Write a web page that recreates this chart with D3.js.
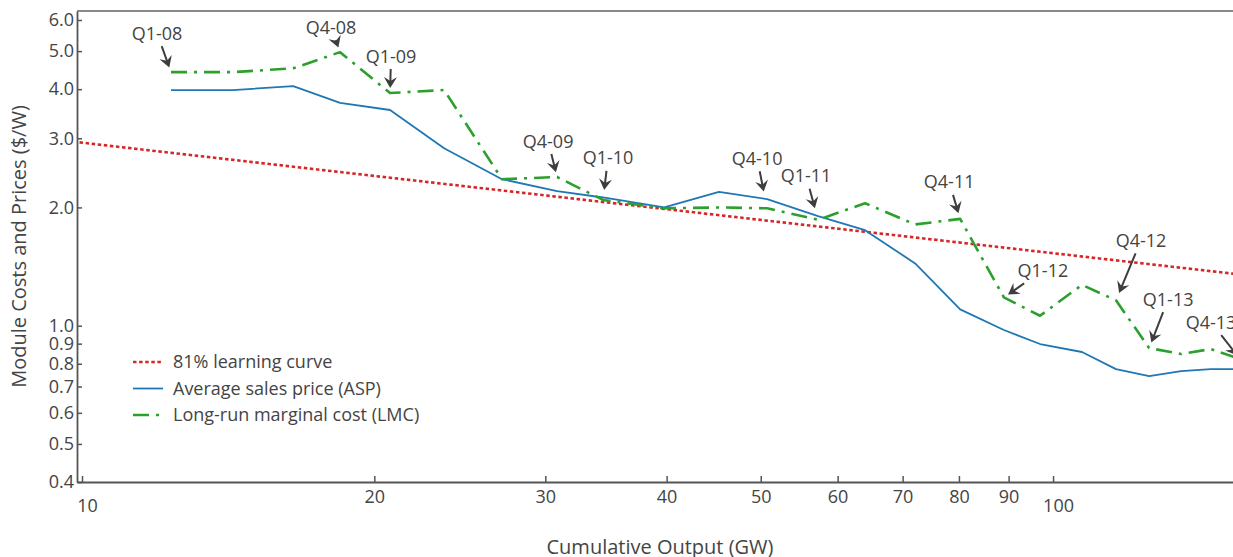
<!DOCTYPE html>
<html>
<head>
<meta charset="utf-8">
<script src="https://cdn.jsdelivr.net/npm/d3@7"></script>
<style>
  body { margin: 0; background: #fff; }
  svg { display: block; font-family: "Open Sans", sans-serif; }
</style>
</head>
<body>
<svg id="chart" width="1233" height="557"></svg>
<script>
"use strict";

// quarterly data
const quarters = ["Q1-08", "Q2-08", "Q3-08", "Q4-08", "Q1-09", "Q2-09", "Q3-09", "Q4-09",
                  "Q1-10", "Q2-10", "Q3-10", "Q4-10", "Q1-11", "Q2-11", "Q3-11", "Q4-11",
                  "Q1-12", "Q2-12", "Q3-12", "Q4-12", "Q1-13", "Q2-13", "Q3-13", "Q4-13"];
const cumOutput = [12.35, 14.3, 16.5, 18.44, 20.76, 23.6, 27.07, 30.85,
                   34.4, 39.77, 45.29, 50.76, 57.28, 64.03, 72.11, 80.23,
                   89.0, 96.96, 107.1, 116.1, 125.6, 135.5, 145.4, 155.8];
const aspPrice = [3.98, 3.98, 4.07, 3.69, 3.54, 2.83, 2.36, 2.2,
                  2.12, 2.0, 2.19, 2.1, 1.9, 1.75, 1.44, 1.1,
                  0.975, 0.898, 0.857, 0.775, 0.744, 0.766, 0.775, 0.775];
const lmcCost = [4.42, 4.42, 4.52, 4.97, 3.91, 3.98, 2.36, 2.39,
                 2.09, 1.99, 2.0, 1.99, 1.86, 2.05, 1.81, 1.87,
                 1.18, 1.06, 1.27, 1.16, 0.877, 0.847, 0.872, 0.822];
const learningOutput = [9.8, 160];
const learningPrice = [2.94, 1.34];

const seriesNames = ["81% learning curve", "Average sales price (ASP)", "Long-run marginal cost (LMC)"];
const xTicks = [10, 20, 30, 40, 50, 60, 70, 80, 90, 100];
const yTicks = [0.4, 0.5, 0.6, 0.7, 0.8, 0.9, 1.0, 2.0, 3.0, 4.0, 5.0, 6.0];
const annotated = ["Q1-08", "Q4-08", "Q1-09", "Q4-09", "Q1-10", "Q4-10",
                   "Q1-11", "Q4-11", "Q1-12", "Q4-12", "Q1-13", "Q4-13"];

// layout
const plot = {left: 77, right: 1243, top: 11, bottom: 482};
const annOffset = [[-14, -39], [-9, -25], [1, -37], [-9, -36], [5, -42], [-10, -50],
                   [-12, -44], [-11, -37], [39, -27], [25, -60], [19, -49], [-29, -37]];
const annStandoff = [5, 5, 5, 5, 10, 17, 12, 6, 5, 8, 6, 5];
const styles = [
  {stroke: "#d62728", width: 2.6, dash: "3.5,2.6"},
  {stroke: "#1f77b4", width: 1.8, dash: null},
  {stroke: "#2ca02c", width: 2.6, dash: "16,7,3,7"}
];
const textColor = "#444";

const svg = d3.select("#chart");
svg.append("rect").attr("width", 1233).attr("height", 557).attr("fill", "#fff");

const x = d3.scaleLog().domain([9.882, 156.9]).range([plot.left, plot.right]);
const y = d3.scaleLog().domain([0.4, 6.325]).range([plot.bottom, plot.top]);

svg.append("clipPath").attr("id", "plot-clip")
  .append("rect")
  .attr("x", plot.left).attr("y", plot.top)
  .attr("width", plot.right - plot.left).attr("height", plot.bottom - plot.top);

// axes
let xAxis = d3.axisBottom(x).tickValues(xTicks).tickFormat(d3.format("d"))
  .tickSizeInner(-6).tickSizeOuter(0).tickPadding(8);
let gx = svg.append("g").attr("transform", `translate(0,${plot.bottom})`).call(xAxis);

let yAxis = d3.axisLeft(y).tickValues(yTicks).tickFormat(d3.format(".1f"))
  .tickSizeInner(-5).tickSizeOuter(0).tickPadding(3);
let gy = svg.append("g").attr("transform", `translate(${plot.left},0)`).call(yAxis);

[gx, gy].forEach(g => {
  g.attr("font-size", 18).attr("font-family", "'Open Sans', sans-serif");
  g.select(".domain").attr("stroke", "#555").attr("stroke-width", 1.8);
  g.selectAll(".tick line").attr("stroke", "#555").attr("stroke-width", 1.5);
  g.selectAll(".tick text").attr("fill", textColor);
});
// 10 and 100 sit a bit lower than the minor labels
gx.selectAll(".tick text")
  .filter(d => d === 10 || d === 100)
  .attr("dx", 5).attr("dy", "1.21em");

svg.append("line")
  .attr("x1", plot.left).attr("x2", plot.right)
  .attr("y1", plot.top).attr("y2", plot.top)
  .attr("stroke", "#888").attr("stroke-width", 1.8);

// series
const line = d3.line().x(d => x(d[0])).y(d => y(d[1]));
const series = [
  d3.zip(learningOutput, learningPrice),
  d3.zip(cumOutput, aspPrice),
  d3.zip(cumOutput, lmcCost)
];
let gLines = svg.append("g").attr("clip-path", "url(#plot-clip)");
series.forEach((pts, i) => {
  gLines.append("path")
    .attr("d", line(pts))
    .attr("fill", "none")
    .attr("stroke", styles[i].stroke)
    .attr("stroke-width", styles[i].width)
    .attr("stroke-dasharray", styles[i].dash)
    .attr("stroke-linejoin", "round");
});

// annotations with arrows
const arrowColor = "#3d3d3d";
let gAnn = svg.append("g");
annotated.forEach((label, k) => {
  let i = quarters.indexOf(label);
  let px = x(cumOutput[i]), py = y(lmcCost[i]);
  let tx = px + annOffset[k][0], ty = py + annOffset[k][1];

  let t = gAnn.append("text")
    .attr("x", tx).attr("y", ty).attr("dy", "0.36em")
    .attr("text-anchor", "middle")
    .attr("font-size", 18).attr("fill", textColor)
    .text(label);
  let hw = t.node().getComputedTextLength() / 2 + 3, hh = 13;

  let dx = px - tx, dy = py - ty;
  let len = Math.hypot(dx, dy);
  let ux = dx / len, uy = dy / len;
  let f = Math.min(Math.abs(dx) > 0 ? hw / Math.abs(dx) : Infinity, hh / Math.abs(dy));
  let sx = tx + f * dx, sy = ty + f * dy;
  let ex = px - annStandoff[k] * ux, ey = py - annStandoff[k] * uy;
  let ang = Math.atan2(uy, ux) * 180 / Math.PI;

  gAnn.append("line")
    .attr("x1", sx).attr("y1", sy)
    .attr("x2", ex - 6 * ux).attr("y2", ey - 6 * uy)
    .attr("stroke", arrowColor).attr("stroke-width", 2);
  gAnn.append("path")
    .attr("d", "M0,0L-11,-6.5L-7,0L-11,6.5Z")
    .attr("transform", `translate(${ex},${ey}) rotate(${ang})`)
    .attr("fill", arrowColor);
});

// legend
let gLeg = svg.append("g").attr("transform", "translate(133,362)");
seriesNames.forEach((name, i) => {
  let row = gLeg.append("g").attr("transform", `translate(0,${i * 26.5})`);
  row.append("line")
    .attr("x1", 0).attr("x2", 30)
    .attr("stroke", styles[i].stroke)
    .attr("stroke-width", styles[i].width)
    .attr("stroke-dasharray", styles[i].dash);
  row.append("text")
    .attr("x", 40).attr("dy", "0.36em")
    .attr("font-size", 18).attr("fill", textColor)
    .text(name);
});

// axis titles
svg.append("text")
  .attr("x", (plot.left + plot.right) / 2).attr("y", 547).attr("dy", "0.36em")
  .attr("text-anchor", "middle").attr("font-size", 20).attr("fill", textColor)
  .text("Cumulative Output (GW)");
svg.append("text")
  .attr("transform", `translate(19,${(plot.top + plot.bottom) / 2}) rotate(-90)`)
  .attr("dy", "0.36em")
  .attr("text-anchor", "middle").attr("font-size", 20).attr("fill", textColor)
  .text("Module Costs and Prices ($/W)");
</script>
</body>
</html>
